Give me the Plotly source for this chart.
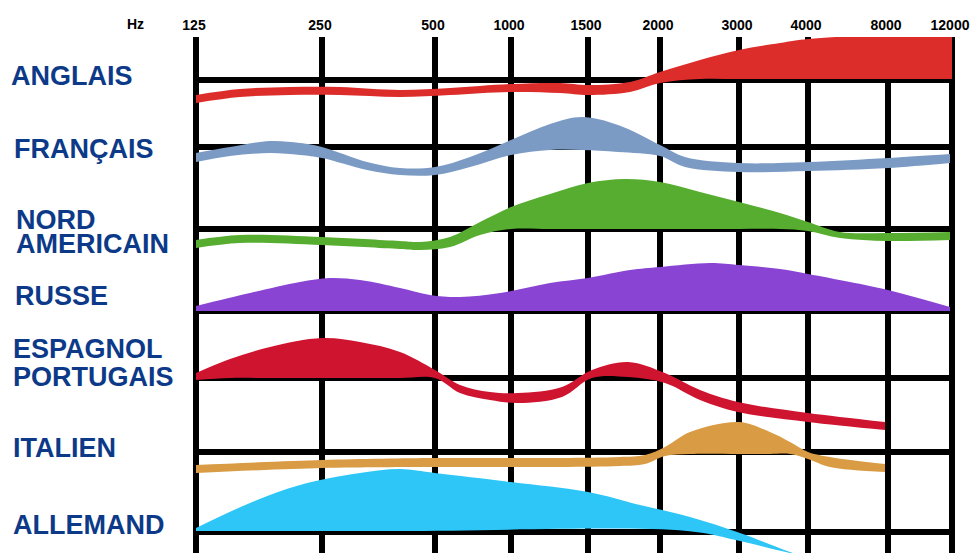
import plotly.graph_objects as go

# ---------------- data ----------------
FREQ_LABELS = ["125", "250", "500", "1000", "1500", "2000", "3000", "4000", "8000", "12000"]
FREQ_POS = [196, 322, 435, 511, 588, 660, 739, 808, 888, 952]   # position of each frequency on the chart's x scale
ROW_BASELINES = [80, 147, 229, 311, 378, 452, 532]             # reference line of each language row (y scale, top = 37)

LANGUAGES = ["ANGLAIS", "FRANÇAIS", "NORD AMERICAIN", "RUSSE", "ESPAGNOL PORTUGAIS", "ITALIEN", "ALLEMAND"]

ANGLAIS_X = [196, 240, 290, 340, 400, 450, 511, 560, 588, 630, 660, 700, 739, 780, 808, 860, 910, 952]
ANGLAIS_TOP = [95, 89, 87, 87, 90, 88, 84, 83, 85, 82, 72, 60, 50, 43, 39, 36, 36, 36]
ANGLAIS_BOT = [103, 97, 95, 95, 97, 95, 92, 93, 95, 92, 83, 79, 79, 79, 79, 79, 79, 79]

FRANCAIS_X = [196, 230, 270, 300, 322, 367, 400, 435, 470, 511, 550, 582, 618, 660, 685, 739, 808, 888, 950]
FRANCAIS_TOP = [153, 147, 141, 143, 147, 162, 168, 167, 157, 140, 124, 117, 125, 145, 157, 163, 162, 158, 154]
FRANCAIS_BOT = [162, 156, 153, 155, 158, 170, 175, 175, 167, 155, 150, 150, 152, 156, 167, 172, 171, 168, 163]

NORD_X = [196, 240, 322, 400, 420, 450, 480, 511, 550, 588, 625, 660, 700, 739, 780, 808, 840, 888, 950]
NORD_TOP = [240, 235, 237, 241, 242, 237, 222, 207, 194, 183, 179, 182, 192, 202, 213, 222, 232, 233, 232]
NORD_BOT = [248, 243, 245, 249, 250, 247, 235, 229, 229, 229, 229, 229, 229, 229, 229, 231, 238, 241, 240]

RUSSE_X = [196, 250, 300, 330, 360, 400, 430, 460, 500, 550, 588, 630, 660, 710, 739, 780, 808, 850, 888, 950]
RUSSE_TOP = [306, 293, 282, 278, 280, 288, 295, 297, 293, 283, 278, 270, 267, 263, 265, 269, 274, 282, 290, 307]
RUSSE_BOT = [311] * len(RUSSE_X)

ESPAGNOL_X = [196, 230, 270, 322, 360, 400, 435, 460, 490, 518, 562, 592, 628, 665, 700, 738, 808, 885]
ESPAGNOL_TOP = [373, 359, 347, 338, 342, 352, 370, 385, 392, 393, 387, 370, 362, 373, 390, 402, 413, 422]
ESPAGNOL_BOT = [380, 378, 378, 378, 378, 378, 378, 393, 400, 403, 397, 378, 377, 383, 400, 412, 422, 430]

ITALIEN_X = [196, 322, 435, 485, 560, 620, 645, 665, 690, 739, 770, 790, 808, 830, 885]
ITALIEN_TOP = [465, 460, 458, 458, 458, 457, 455, 447, 432, 422, 432, 442, 452, 457, 464]
ITALIEN_BOT = [473, 468, 467, 467, 467, 466, 464, 456, 454, 454, 454, 454, 459, 467, 472]

ALLEMAND_TOP_X = [196, 250, 300, 360, 400, 435, 511, 588, 640, 690, 740, 790, 815]
ALLEMAND_TOP = [528, 503, 485, 473, 469, 473, 482, 492, 505, 517, 533, 552, 560]
ALLEMAND_BOT_X = [196, 400, 687, 740, 790, 815]
ALLEMAND_BOT = [531, 531, 531, 541, 553, 558]

BANDS = [
    (ANGLAIS_X, ANGLAIS_BOT, ANGLAIS_X, ANGLAIS_TOP, "#dc2d2b"),
    (FRANCAIS_X, FRANCAIS_BOT, FRANCAIS_X, FRANCAIS_TOP, "#7b9bc5"),
    (NORD_X, NORD_BOT, NORD_X, NORD_TOP, "#56ad30"),
    (RUSSE_X, RUSSE_BOT, RUSSE_X, RUSSE_TOP, "#8944d3"),
    (ESPAGNOL_X, ESPAGNOL_BOT, ESPAGNOL_X, ESPAGNOL_TOP, "#cf1430"),
    (ITALIEN_X, ITALIEN_BOT, ITALIEN_X, ITALIEN_TOP, "#d99c44"),
    (ALLEMAND_BOT_X, ALLEMAND_BOT, ALLEMAND_TOP_X, ALLEMAND_TOP, "#2dc6f6"),
]

# ---------------- layout helpers ----------------
W, H = 971, 553
PLOT_L, PLOT_R, PLOT_T = 186, 962, 37
LABEL_COLOR = "#0c3a88"
FONT = "Liberation Sans, Arial, sans-serif"

# label lines: (text, left px, centre y px)
LABEL_LINES = [
    ("ANGLAIS", 9, 76),
    ("FRANÇAIS", 12, 149),
    ("NORD", 14, 220),
    ("AMERICAIN", 14, 244),
    ("RUSSE", 13, 296),
    ("ESPAGNOL", 11, 349),
    ("PORTUGAIS", 11, 377),
    ("ITALIEN", 11, 448),
    ("ALLEMAND", 11, 525),
]

fig = go.Figure()

for xb, yb, xt, yt, color in BANDS:
    fig.add_trace(go.Scatter(x=xb, y=yb, mode="lines",
                             line=dict(width=0, shape="spline", smoothing=1.0, color=color),
                             hoverinfo="skip", showlegend=False))
    fig.add_trace(go.Scatter(x=xt, y=yt, mode="lines", fill="tonexty", fillcolor=color,
                             line=dict(width=0, shape="spline", smoothing=1.0, color=color),
                             hoverinfo="skip", showlegend=False))

shapes = []
for yb in ROW_BASELINES:
    shapes.append(dict(type="line", xref="x", yref="y", x0=FREQ_POS[0], x1=FREQ_POS[-1],
                       y0=yb, y1=yb, line=dict(color="black", width=6), layer="below"))

annotations = []
plot_w = PLOT_R - PLOT_L
plot_h = H - PLOT_T
for text, px, py in LABEL_LINES:
    annotations.append(dict(text=text, xref="paper", yref="paper",
                            x=(px - PLOT_L) / plot_w, y=(H - py) / plot_h,
                            xanchor="left", yanchor="middle", showarrow=False,
                            font=dict(family=FONT, size=27, color=LABEL_COLOR, weight="bold")))
annotations.append(dict(text="Hz", xref="paper", yref="paper",
                        x=(135 - PLOT_L) / plot_w, y=(H - 24) / plot_h,
                        xanchor="center", yanchor="middle", showarrow=False,
                        font=dict(family=FONT, size=14, color="black", weight="bold")))

fig.update_layout(
    width=W, height=H,
    margin=dict(l=PLOT_L, r=W - PLOT_R, t=PLOT_T, b=0, pad=0),
    paper_bgcolor="white", plot_bgcolor="white",
    shapes=shapes, annotations=annotations,
    showlegend=False,
    xaxis=dict(range=[PLOT_L, PLOT_R], tickvals=FREQ_POS, ticktext=FREQ_LABELS,
               side="top", showgrid=True, gridcolor="black", gridwidth=6,
               zeroline=False, showline=False, ticks="", ticklabelstandoff=3,
               ticklabelshift=-2, ticklabeloverflow="allow",
               tickfont=dict(family=FONT, size=14, color="black", weight="bold"),
               fixedrange=True, automargin=False),
    yaxis=dict(range=[H, PLOT_T], showgrid=False, zeroline=False, showline=False,
               showticklabels=False, ticks="", fixedrange=True),
)

fig.write_html("out.html", config={"displayModeBar": False},
               post_script="document.body.style.margin='0';document.body.style.overflow='hidden';")
